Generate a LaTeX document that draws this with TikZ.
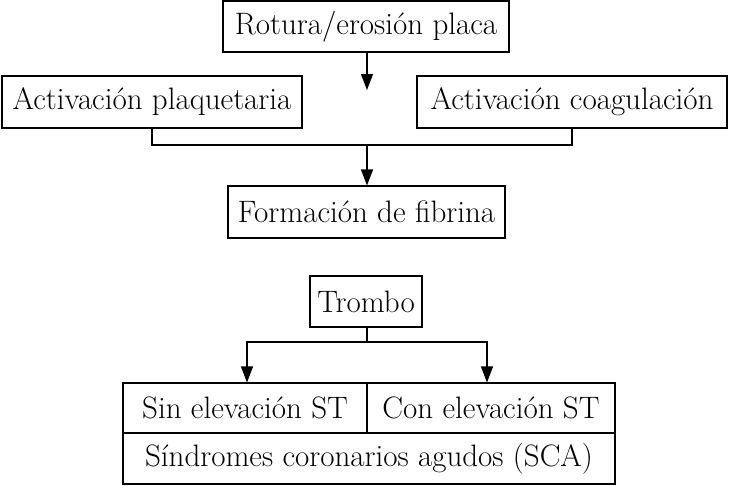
\documentclass[tikz,border=0pt]{standalone}
\usetikzlibrary{arrows.meta}
\begin{document}
\begin{tikzpicture}[x=1pt,y=-1pt,
  box/.style={draw,line width=1.1pt,inner sep=0pt,anchor=center,font=\fontsize{31}{36}\selectfont},
  conn/.style={line width=1.1pt},
  arr/.style={conn,-{Triangle[width=12pt,length=16pt]}}]
\useasboundingbox (0,0) rectangle (730,485);
\node[box,minimum width=286pt,minimum height=51pt] (rot) at (366,26.5) {Rotura/erosión placa};
\node[box,minimum width=300pt,minimum height=52pt] (plaq) at (152,102) {Activación plaquetaria};
\node[box,minimum width=310pt,minimum height=52pt] (coag) at (572,102) {Activación coagulación};
\node[box,minimum width=277pt,minimum height=52pt] (fib) at (366.5,212) {Formación de fibrina};
\node[box,minimum width=112pt,minimum height=51pt] (tro) at (366,301.5) {Trombo};
\node[box,minimum width=244pt,minimum height=50pt] (sin) at (245,408) {Sin elevación ST};
\node[box,minimum width=248pt,minimum height=50pt] (con) at (491,408) {Con elevación ST};
\node[box,minimum width=492pt,minimum height=51pt] (sca) at (369,458.5) {Síndromes coronarios agudos (SCA)};
\coordinate (rotend) at (367,90);
\coordinate (join) at (367,145);
\coordinate (split) at (367,342);
\draw[arr] (rot.south -| rotend) -- (rotend);
\draw[conn] (plaq.south) |- (join) -| (coag.south);
\draw[arr] (join) -- (fib.north -| join);
\draw[conn] (tro.south -| split) -- (split);
\draw[arr] (split) -| ([xshift=2pt]sin.north);
\draw[arr] (split) -| ([xshift=-4pt]con.north);
\end{tikzpicture}
\end{document}
